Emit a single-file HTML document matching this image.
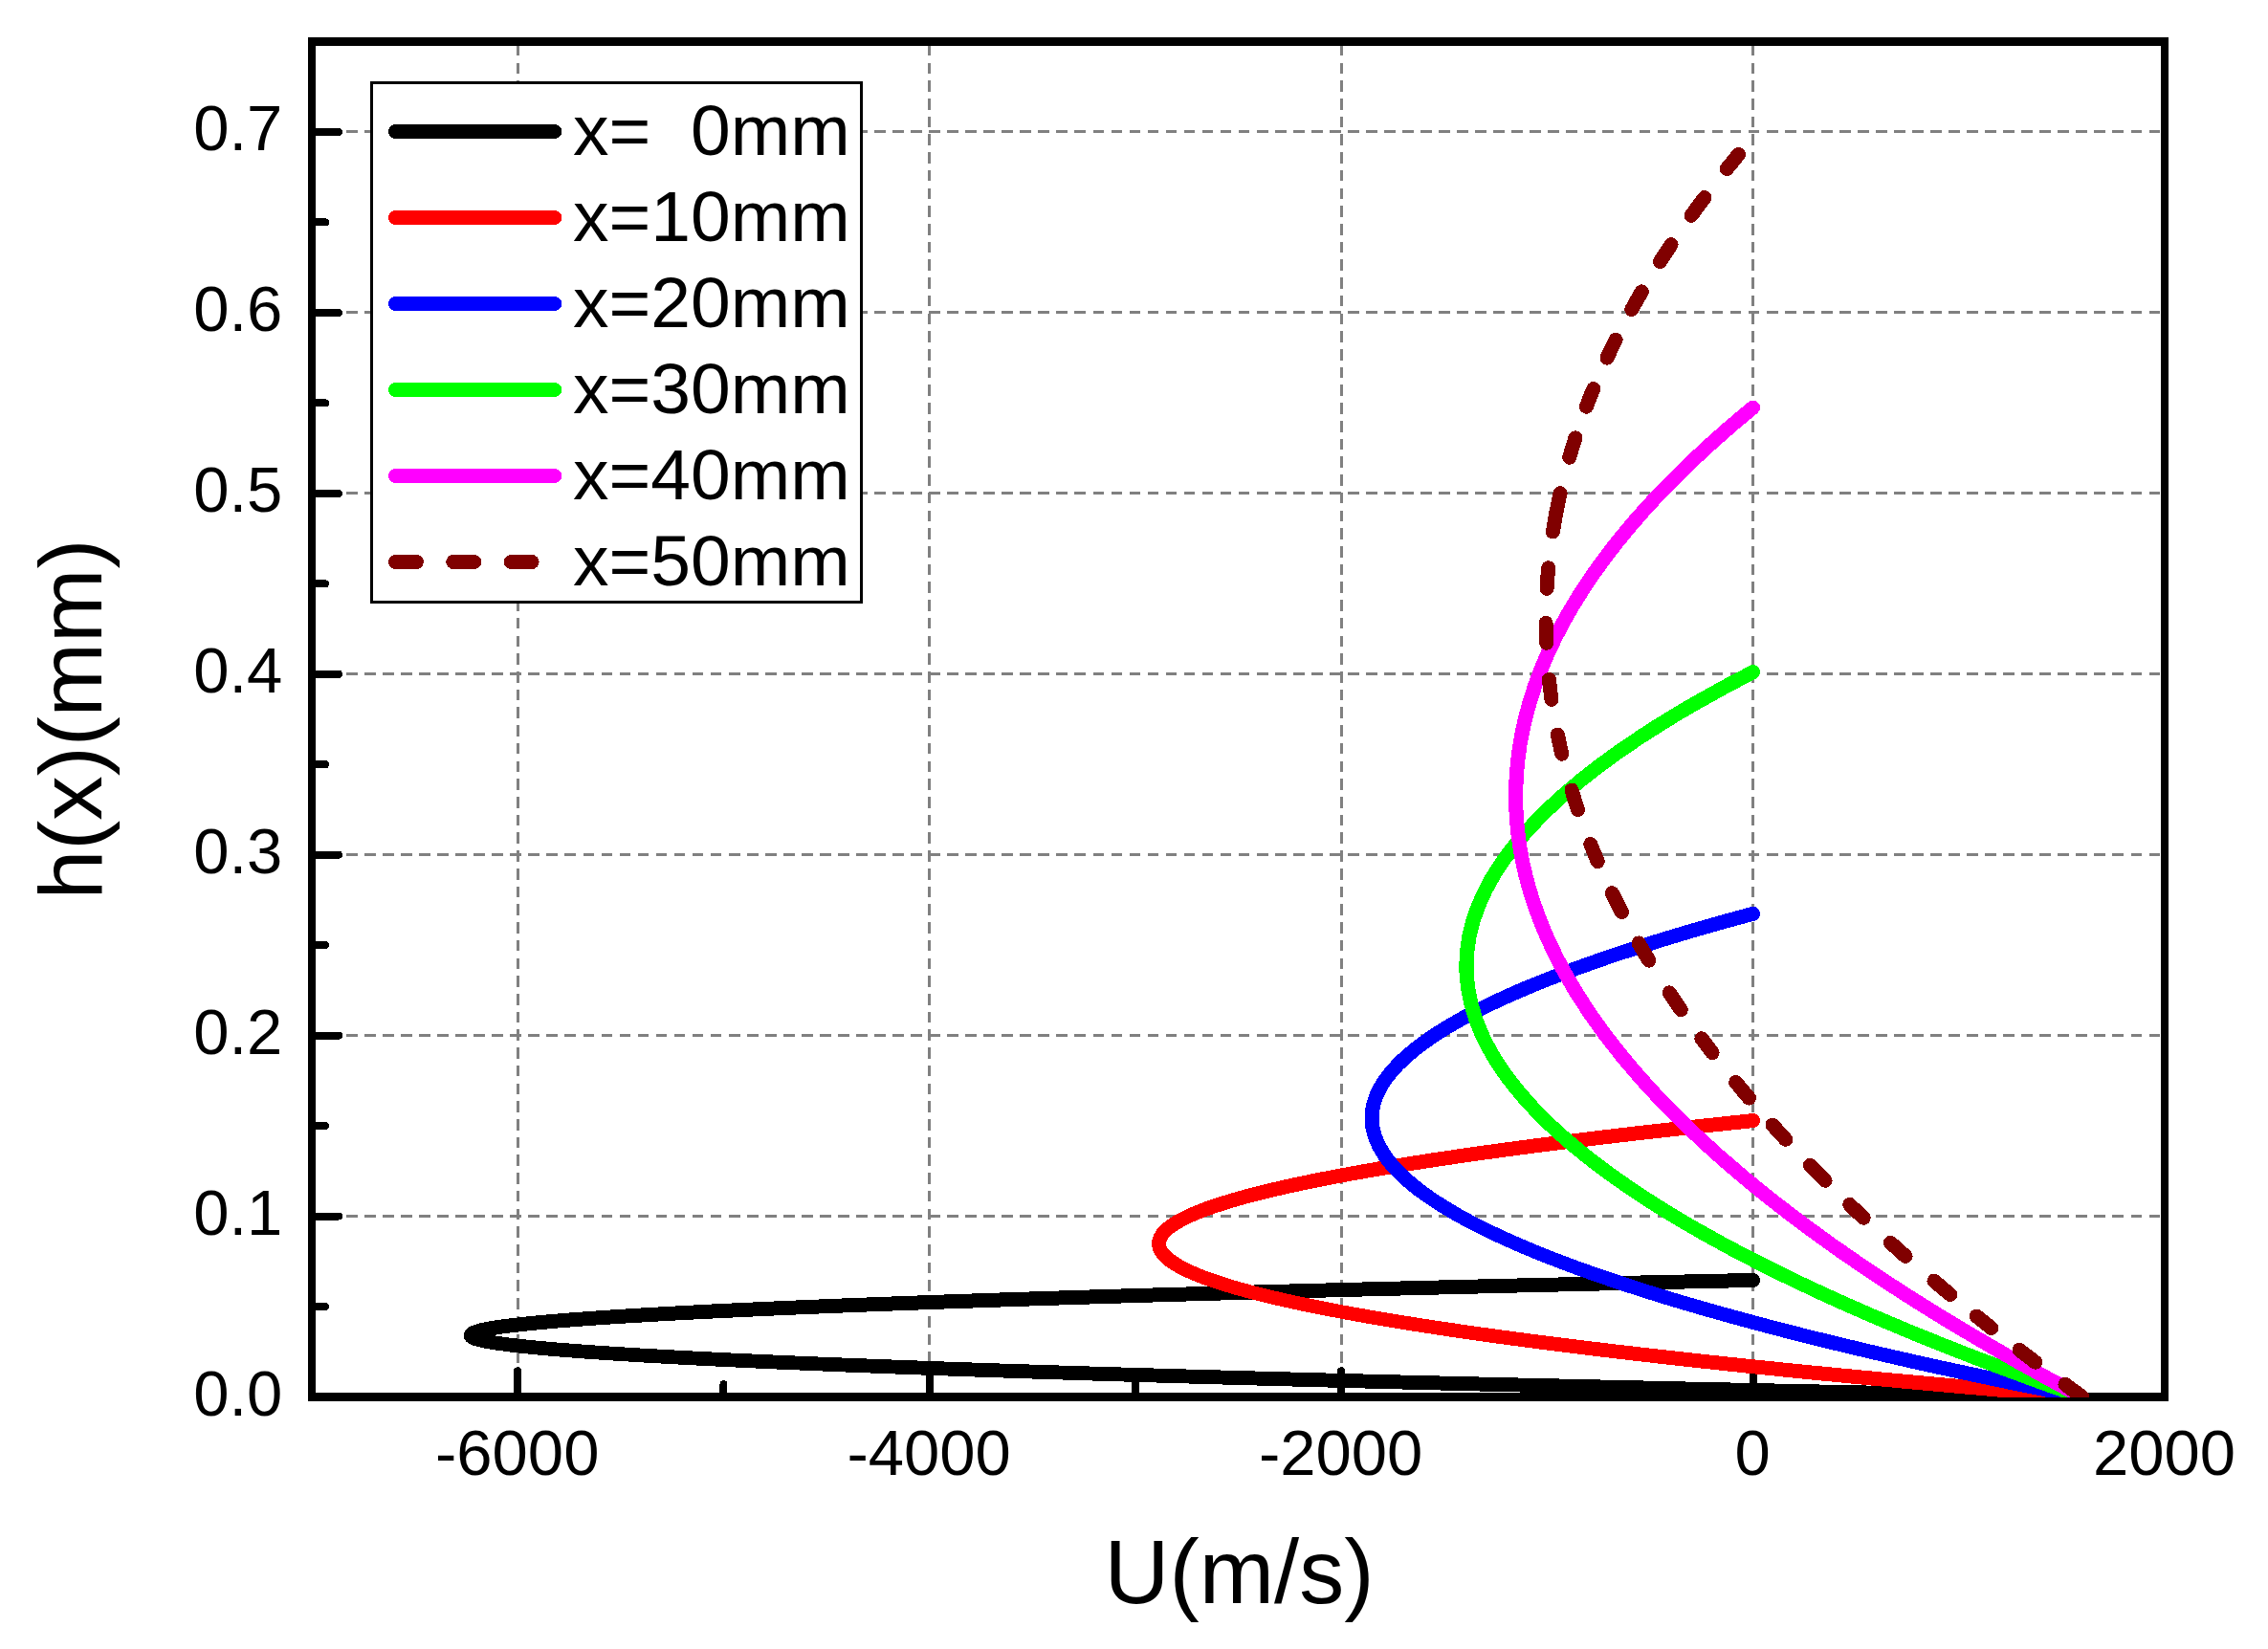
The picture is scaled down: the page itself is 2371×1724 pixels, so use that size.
<!DOCTYPE html>
<html><head><meta charset="utf-8"><title>h(x) vs U</title>
<style>html,body{margin:0;padding:0;background:#fff}svg{display:block}text{font-family:"Liberation Sans",Arial,sans-serif;fill:#000}</style></head><body>
<svg width="2371" height="1724" viewBox="0 0 2371 1724" shape-rendering="crispEdges">
<rect width="2371" height="1724" fill="#fff"/>
<defs><clipPath id="c"><rect x="326.0" y="43.5" width="1937.0" height="1417.5"/></clipPath></defs>
<g stroke="#808080" stroke-width="3" fill="none">
<g stroke-dasharray="11.6 7.12">
<line x1="541.5" y1="46.8" x2="541.5" y2="1460.5"/>
<line x1="971.5" y1="46.8" x2="971.5" y2="1460.5"/>
<line x1="1402.5" y1="46.8" x2="1402.5" y2="1460.5"/>
<line x1="1832.5" y1="46.8" x2="1832.5" y2="1460.5"/>
</g><g stroke-dasharray="11.7 7.335">
<line x1="324" y1="1271.5" x2="2258" y2="1271.5"/>
<line x1="324" y1="1082.5" x2="2258" y2="1082.5"/>
<line x1="324" y1="893.5" x2="2258" y2="893.5"/>
<line x1="324" y1="704.5" x2="2258" y2="704.5"/>
<line x1="324" y1="515.5" x2="2258" y2="515.5"/>
<line x1="324" y1="326.5" x2="2258" y2="326.5"/>
<line x1="324" y1="137.5" x2="2258" y2="137.5"/>
</g></g>
<g stroke="#000" fill="none">
<line x1="326.0" y1="39" x2="326.0" y2="1465" stroke-width="8"/>
<line x1="2263.0" y1="39" x2="2263.0" y2="1465" stroke-width="8"/>
<line x1="322" y1="43.5" x2="2267" y2="43.5" stroke-width="9"/>
<line x1="322" y1="1460.5" x2="2267" y2="1460.5" stroke-width="9"/>
<g stroke-width="8" stroke-linecap="round">
<line x1="326.0" y1="1271.57" x2="354" y2="1271.57"/>
<line x1="326.0" y1="1082.63" x2="354" y2="1082.63"/>
<line x1="326.0" y1="893.70" x2="354" y2="893.70"/>
<line x1="326.0" y1="704.77" x2="354" y2="704.77"/>
<line x1="326.0" y1="515.83" x2="354" y2="515.83"/>
<line x1="326.0" y1="326.90" x2="354" y2="326.90"/>
<line x1="326.0" y1="137.97" x2="354" y2="137.97"/>
<line x1="326.0" y1="1366.03" x2="340" y2="1366.03"/>
<line x1="326.0" y1="1177.10" x2="340" y2="1177.10"/>
<line x1="326.0" y1="988.17" x2="340" y2="988.17"/>
<line x1="326.0" y1="799.23" x2="340" y2="799.23"/>
<line x1="326.0" y1="610.30" x2="340" y2="610.30"/>
<line x1="326.0" y1="421.37" x2="340" y2="421.37"/>
<line x1="326.0" y1="232.43" x2="340" y2="232.43"/>
<line x1="541.22" y1="1460.5" x2="541.22" y2="1433.3"/>
<line x1="971.67" y1="1460.5" x2="971.67" y2="1433.3"/>
<line x1="1402.11" y1="1460.5" x2="1402.11" y2="1433.3"/>
<line x1="1832.56" y1="1460.5" x2="1832.56" y2="1433.3"/>
<line x1="756.44" y1="1460.5" x2="756.44" y2="1447.2"/>
<line x1="1186.89" y1="1460.5" x2="1186.89" y2="1447.2"/>
<line x1="1617.33" y1="1460.5" x2="1617.33" y2="1447.2"/>
<line x1="2047.78" y1="1460.5" x2="2047.78" y2="1447.2"/>
</g></g>
<g clip-path="url(#c)" fill="none" stroke-width="15" stroke-linecap="round" stroke-linejoin="round">
<path d="M2176.91 1460.50Q-1010.60 1399.47 1832.56 1338.45" stroke="#000000"/>
<path d="M2176.91 1460.50Q437.16 1316.06 1832.56 1171.62" stroke="#ff0000"/>
<path d="M2176.91 1460.50Q890.09 1207.90 1832.56 955.29" stroke="#0000ff"/>
<path d="M2176.91 1460.50Q1093.65 1081.59 1832.56 702.69" stroke="#00ff00"/>
<path d="M2176.91 1460.50Q1201.41 943.30 1832.56 426.09" stroke="#ff00ff"/>
<path d="M2176.91 1460.50Q2167.87 1453.95 2158.97 1447.40M2127.78 1424.10Q2119.34 1417.70 2111.03 1411.30M2081.90 1388.50Q2074.03 1382.25 2066.30 1376.00M2038.90 1353.50Q2030.32 1346.35 2021.93 1339.20M1992.07 1313.30Q1984.16 1306.30 1976.41 1299.30M1948.21 1273.30Q1940.88 1266.40 1933.71 1259.50M1908.06 1234.30Q1900.09 1226.30 1892.34 1218.30M1866.80 1191.30Q1859.78 1183.70 1852.96 1176.10M1828.50 1148.10Q1821.45 1139.80 1814.63 1131.50M1790.06 1100.60Q1784.37 1093.20 1778.86 1085.80M1757.24 1055.70Q1751.08 1046.80 1745.18 1037.90M1723.76 1004.10Q1718.29 995.05 1713.09 986.00M1695.38 953.60Q1690.22 943.65 1685.39 933.70M1670.26 900.60Q1666.38 891.55 1662.77 882.50M1649.50 846.40Q1646.08 836.25 1643.02 826.10M1632.78 788.20Q1630.39 778.15 1628.34 768.10M1621.99 731.30Q1620.52 720.85 1619.41 710.40M1616.62 672.30Q1616.19 661.80 1616.14 651.30M1617.04 615.40Q1617.65 604.55 1618.66 593.70M1623.36 556.00Q1626.53 535.80 1631.08 515.60M1640.70 478.20Q1643.64 468.05 1646.92 457.90M1658.41 425.20Q1661.94 415.90 1665.76 406.60M1680.01 374.10Q1684.39 364.70 1689.07 355.30M1705.76 323.50Q1710.90 314.20 1716.33 304.90M1735.49 273.50Q1741.13 264.65 1747.03 255.80M1768.17 225.30Q1774.89 215.95 1781.91 206.60M1805.28 176.50Q1811.30 169.00 1817.50 161.50" stroke="#800000"/>
</g>
<g font-size="67">
<text x="295.3" y="1479.50" text-anchor="end">0.0</text>
<text x="295.3" y="1290.57" text-anchor="end">0.1</text>
<text x="295.3" y="1101.63" text-anchor="end">0.2</text>
<text x="295.3" y="912.70" text-anchor="end">0.3</text>
<text x="295.3" y="723.77" text-anchor="end">0.4</text>
<text x="295.3" y="534.83" text-anchor="end">0.5</text>
<text x="295.3" y="345.90" text-anchor="end">0.6</text>
<text x="295.3" y="156.97" text-anchor="end">0.7</text>
<text x="540.72" y="1542" text-anchor="middle">-6000</text>
<text x="971.17" y="1542" text-anchor="middle">-4000</text>
<text x="1401.61" y="1542" text-anchor="middle">-2000</text>
<text x="1832.06" y="1542" text-anchor="middle">0</text>
<text x="2262.50" y="1542" text-anchor="middle">2000</text>
</g>
<text x="1295.5" y="1675.5" font-size="94" text-anchor="middle">U(m/s)</text>
<text transform="translate(106 752) rotate(-90)" font-size="93" text-anchor="middle">h(x)(mm)</text>
<rect x="388.5" y="86.5" width="512" height="543" fill="#fff" stroke="#000" stroke-width="3"/>
<g stroke-width="15" stroke-linecap="round" fill="none">
<line x1="413.4" y1="137.5" x2="579.7" y2="137.5" stroke="#000000"/>
<line x1="413.4" y1="227.5" x2="579.7" y2="227.5" stroke="#ff0000"/>
<line x1="413.4" y1="317.5" x2="579.7" y2="317.5" stroke="#0000ff"/>
<line x1="413.4" y1="407.5" x2="579.7" y2="407.5" stroke="#00ff00"/>
<line x1="413.4" y1="497.5" x2="579.7" y2="497.5" stroke="#ff00ff"/>
<line x1="413.4" y1="587.5" x2="560" y2="587.5" stroke="#800000" stroke-dasharray="22 38.4"/>
</g>
<g font-size="75">
<text x="599" y="162.3">x=  0mm</text>
<text x="599" y="252.3">x=10mm</text>
<text x="599" y="342.3">x=20mm</text>
<text x="599" y="432.3">x=30mm</text>
<text x="599" y="522.3">x=40mm</text>
<text x="599" y="612.3">x=50mm</text>
</g>
</svg></body></html>
